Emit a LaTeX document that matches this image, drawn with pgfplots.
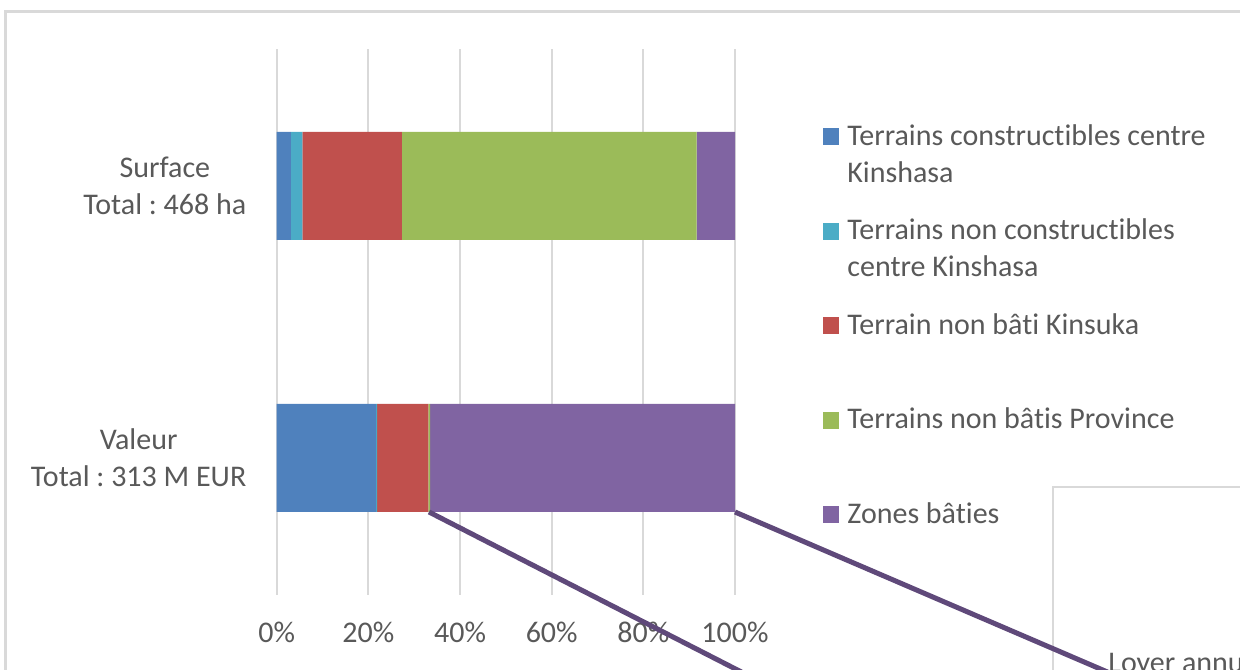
\documentclass[border=0pt]{standalone}
\usepackage{fontspec}
\setmainfont{Carlito}[Ligatures={NoCommon,NoContextual}]
\usepackage{pgfplots}
\pgfplotsset{compat=1.18}
\definecolor{cBlue}{HTML}{4F81BD}
\definecolor{cCyan}{HTML}{4BACC6}
\definecolor{cRed}{HTML}{C0504D}
\definecolor{cGreen}{HTML}{9BBB59}
\definecolor{cPurple}{HTML}{8064A2}
\definecolor{cLine}{HTML}{5F497A}
\definecolor{gridgray}{HTML}{D9D9D9}
\definecolor{framegray}{HTML}{D9D9D9}
\definecolor{textgray}{HTML}{595959}
\newcommand{\chartfont}{\fontsize{15bp}{18.5bp}\selectfont}
\pgfplotsset{sqleg/.style={legend image code/.code={\fill[##1] (0bp,0bp) rectangle (8bp,8.5bp);}}}
\frenchspacing
\begin{document}
\chartfont
\begin{tikzpicture}
\useasboundingbox (0bp,0bp) rectangle (620bp,335bp);
\clip (0bp,0bp) rectangle (620bp,335bp);
\draw[framegray, line width=1.5bp] (2.5bp,-20bp) rectangle (640bp,329.2bp);
\begin{axis}[
  at={(138.35bp,37.5bp)}, anchor=south west,
  scale only axis, width=229.15bp, height=273bp,
  xmin=0, xmax=100, ymin=-0.5037, ymax=1.5037,
  xbar stacked, bar width=54bp,
  axis line style={draw=none}, tick style={draw=none},
  xmajorgrids, ymajorgrids=false,
  grid style={gridgray, line width=1bp},
  xtick={0,20,40,60,80,100},
  xticklabels={0\%,20\%,40\%,60\%,80\%,100\%},
  ytick={0,1},
  yticklabels={{Valeur\\Total : 313 M EUR},{Surface\\Total : 468 ha}},
  ticklabel style={text=textgray, font=\chartfont, inner sep=0pt},
  xticklabel style={anchor=base, yshift=-24bp},
  yticklabel style={anchor=east, align=center, xshift=-15bp},
  legend style={draw=none, fill=none, at={(1.192,0.8716)}, anchor=north west,
    inner sep=0pt, row sep=32bp, column sep=4bp,
    nodes={inner sep=0pt, text=textgray}, font=\chartfont,
    cells={anchor=base west}},
]
\addplot[fill=cBlue, draw=none, sqleg]
  coordinates {(21.7,0) (3.1,1)};
\addlegendentry{\parbox[t]{200bp}{\strut Terrains constructibles centre\\Kinshasa}}
\addplot[fill=cCyan, draw=none, sqleg]
  coordinates {(0.2,0) (2.5,1)};
\addlegendentry{\parbox[t]{200bp}{\strut Terrains non constructibles\\centre Kinshasa}}
\addplot[fill=cRed, draw=none, sqleg]
  coordinates {(11.2,0) (21.7,1)};
\addlegendentry{\parbox[t]{200bp}{\strut Terrain non bâti Kinsuka}}
\addplot[fill=cGreen, draw=none, sqleg]
  coordinates {(0.4,0) (64.3,1)};
\addlegendentry{\parbox[t]{200bp}{\strut Terrains non bâtis Province}}
\addplot[fill=cPurple, draw=none, sqleg]
  coordinates {(66.5,0) (8.4,1)};
\addlegendentry{\parbox[t]{200bp}{\strut Zones bâties}}
\end{axis}
\draw[framegray, line width=1bp, fill=white] (526.5bp,91.5bp) rectangle (640bp,-20bp);
\node[anchor=base west, inner sep=0pt, text=textgray] at (554bp,-1bp) {Loyer annuel};
\draw[cLine, line width=2.5bp] (214.5bp,79bp) -- (378.5bp,-5bp);
\draw[cLine, line width=2.5bp] (367.5bp,79bp) -- (563bp,-5bp);
\end{tikzpicture}
\end{document}
